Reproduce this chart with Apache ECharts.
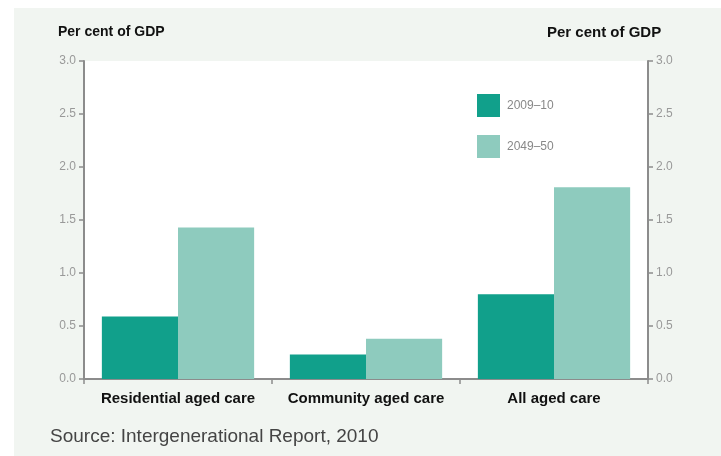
<!DOCTYPE html>
<html><head><meta charset="utf-8">
<script src="https://cdn.jsdelivr.net/npm/echarts@6/dist/echarts.min.js"></script>
<style>html,body{margin:0;padding:0;background:#fff}#c{width:721px;height:456px}</style>
</head><body><div id="c"></div>
<script>
const categories = ['Residential aged care', 'Community aged care', 'All aged care'];
const seriesNames = ['2009\u201310', '2049\u201350'];
const values2009 = [0.59, 0.23, 0.80];
const values2049 = [1.43, 0.38, 1.81];
const yTicks = [0, 0.5, 1.0, 1.5, 2.0, 2.5, 3.0];

const chart = echarts.init(document.getElementById('c'));
const tickFont = "'Liberation Sans Narrow','Liberation Sans',Arial,sans-serif";
const axisColor = '#8c8c8c';
function yAxis(pos) {
  return {
    type: 'value', position: pos, min: yTicks[0], max: yTicks[yTicks.length - 1], interval: 0.5,
    axisLine: { show: true, lineStyle: { color: axisColor, width: 2 } },
    axisTick: { show: true, length: 5, lineStyle: { color: axisColor, width: 1.5 } },
    splitLine: { show: false },
    axisLabel: { color: '#999', fontSize: 12, fontFamily: tickFont, margin: 8,
      formatter: v => v.toFixed(1) }
  };
}
chart.setOption({
  animation: false,
  graphic: [
    { type: 'rect', z: -10, shape: { x: 14, y: 8, width: 707, height: 448 }, style: { fill: '#f1f5f1' } },
    { type: 'text', left: 58, top: 25, style: { text: 'Per cent of GDP', font: "bold 14px 'Liberation Sans', Arial, sans-serif", fill: '#111' } },
    { type: 'text', left: 547, top: 25, style: { text: 'Per cent of GDP', font: "bold 15px 'Liberation Sans', Arial, sans-serif", fill: '#111' } },
    { type: 'text', left: 50, top: 427, style: { text: 'Source: Intergenerational Report, 2010', font: "19px 'Liberation Sans', Arial, sans-serif", fill: '#444' } }
  ],
  grid: { left: 84, right: 73, top: 61, bottom: 77, show: true, backgroundColor: '#fff', borderWidth: 0 },
  legend: {
    orient: 'vertical', left: 477, top: 94, padding: 0, itemWidth: 23, itemHeight: 23, itemGap: 18,
    icon: 'rect', data: seriesNames,
    textStyle: { color: '#888', fontSize: 12, fontFamily: tickFont, padding: [0, 0, 0, 2] }
  },
  xAxis: {
    type: 'category', data: categories, boundaryGap: true,
    axisLine: { show: true, lineStyle: { color: axisColor, width: 2 } },
    axisTick: { show: true, interval: 0, length: 5, lineStyle: { color: axisColor, width: 1.5 } },
    axisLabel: { interval: 0, hideOverlap: false, color: '#111', fontSize: 15, fontWeight: 'bold', fontFamily: "'Liberation Sans', Arial, sans-serif", margin: 12 }
  },
  yAxis: [yAxis('left'), yAxis('right')],
  series: [
    { name: seriesNames[0], type: 'bar', data: values2009, barGap: '0%', barCategoryGap: '19%',
      itemStyle: { color: '#11a08b' } },
    { name: seriesNames[1], type: 'bar', data: values2049, barGap: '0%', barCategoryGap: '19%',
      itemStyle: { color: '#8ecbbe' } }
  ]
});
</script></body></html>
